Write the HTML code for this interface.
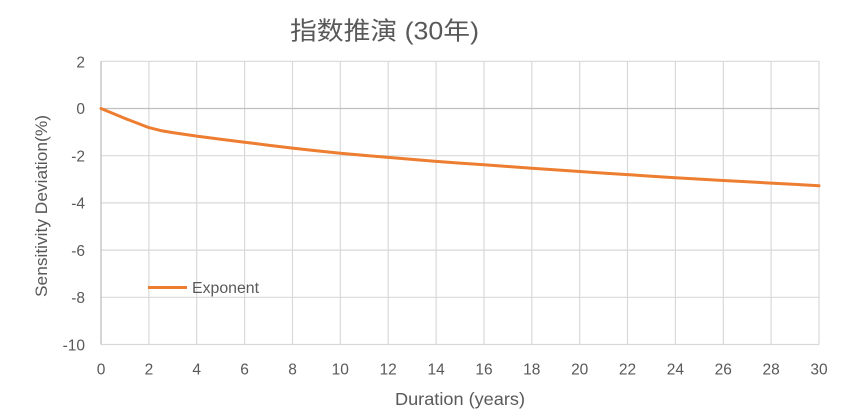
<!DOCTYPE html>
<html><head><meta charset="utf-8"><style>
html,body{margin:0;padding:0;background:#fff;}
svg{display:block;}
text{font-family:"Liberation Sans","Noto Sans CJK SC",sans-serif;fill:#595959;}
</style></head><body>
<svg width="853" height="418" viewBox="0 0 853 418" xmlns="http://www.w3.org/2000/svg">
<rect width="853" height="418" fill="#fff"/>
<text x="290" y="39.5" font-size="25" textLength="189" lengthAdjust="spacingAndGlyphs">指数推演 (30年)</text>
<g stroke="#d9d9d9" stroke-width="1.2" fill="none">
<line x1="101" y1="61.3" x2="819" y2="61.3"/>
<line x1="101" y1="155.7" x2="819" y2="155.7"/>
<line x1="101" y1="202.9" x2="819" y2="202.9"/>
<line x1="101" y1="250.1" x2="819" y2="250.1"/>
<line x1="101" y1="297.3" x2="819" y2="297.3"/>
<line x1="101" y1="344.5" x2="819" y2="344.5"/>
<line x1="148.9" y1="61.3" x2="148.9" y2="344.5"/>
<line x1="196.7" y1="61.3" x2="196.7" y2="344.5"/>
<line x1="244.6" y1="61.3" x2="244.6" y2="344.5"/>
<line x1="292.5" y1="61.3" x2="292.5" y2="344.5"/>
<line x1="340.3" y1="61.3" x2="340.3" y2="344.5"/>
<line x1="388.2" y1="61.3" x2="388.2" y2="344.5"/>
<line x1="436.1" y1="61.3" x2="436.1" y2="344.5"/>
<line x1="484" y1="61.3" x2="484" y2="344.5"/>
<line x1="531.8" y1="61.3" x2="531.8" y2="344.5"/>
<line x1="579.7" y1="61.3" x2="579.7" y2="344.5"/>
<line x1="627.5" y1="61.3" x2="627.5" y2="344.5"/>
<line x1="675.4" y1="61.3" x2="675.4" y2="344.5"/>
<line x1="723.3" y1="61.3" x2="723.3" y2="344.5"/>
<line x1="771.1" y1="61.3" x2="771.1" y2="344.5"/>
<line x1="819" y1="61.3" x2="819" y2="344.5"/>
</g>
<line x1="101" y1="61.3" x2="101" y2="344.5" stroke="#bfbfbf" stroke-width="1.3"/>
<line x1="101" y1="108.5" x2="819" y2="108.5" stroke="#bfbfbf" stroke-width="1.3"/>
<g font-size="15.5" text-anchor="end">
<text x="85" y="67.5">2</text>
<text x="85" y="114">0</text>
<text x="85" y="161.5">-2</text>
<text x="85" y="208.5">-4</text>
<text x="85" y="256">-6</text>
<text x="85" y="303">-8</text>
<text x="85" y="350.5">-10</text>
</g>
<g font-size="15.5" text-anchor="middle">
<text x="101" y="374.5">0</text>
<text x="148.9" y="374.5">2</text>
<text x="196.7" y="374.5">4</text>
<text x="244.6" y="374.5">6</text>
<text x="292.5" y="374.5">8</text>
<text x="340.3" y="374.5">10</text>
<text x="388.2" y="374.5">12</text>
<text x="436.1" y="374.5">14</text>
<text x="484" y="374.5">16</text>
<text x="531.8" y="374.5">18</text>
<text x="579.7" y="374.5">20</text>
<text x="627.5" y="374.5">22</text>
<text x="675.4" y="374.5">24</text>
<text x="723.3" y="374.5">26</text>
<text x="771.1" y="374.5">28</text>
<text x="819" y="374.5">30</text>
</g>
<text x="395" y="405" font-size="17.5" textLength="130" lengthAdjust="spacingAndGlyphs">Duration (years)</text>
<text transform="translate(47,297) rotate(-90)" font-size="17" textLength="182" lengthAdjust="spacingAndGlyphs">Sensitivity Deviation(%)</text>
<polyline fill="none" stroke="#ED7D31" stroke-width="3" stroke-linejoin="round" stroke-linecap="round"
points="101,108.5 124.9,118.4 148.9,127.6 160.8,130.6 172.8,132.6 196.7,136.1 220.7,139.2 244.6,142.2 268.5,145.2 292.5,148.1 316.4,150.8 340.3,153.3 364.3,155.4 388.2,157.4 412.1,159.4 436.1,161.4 460,163.1 484,164.7 507.9,166.5 531.8,168.2 555.8,169.9 579.7,171.5 603.6,173.1 627.5,174.6 651.5,176.2 675.4,177.7 699.4,179.1 723.3,180.5 747.2,181.8 771.1,183.1 795.1,184.4 819,185.7"/>
<line x1="148" y1="287.5" x2="187" y2="287.5" stroke="#ED7D31" stroke-width="3"/>
<text x="192" y="293" font-size="15.5" textLength="67" lengthAdjust="spacingAndGlyphs">Exponent</text>
</svg>
</body></html>
